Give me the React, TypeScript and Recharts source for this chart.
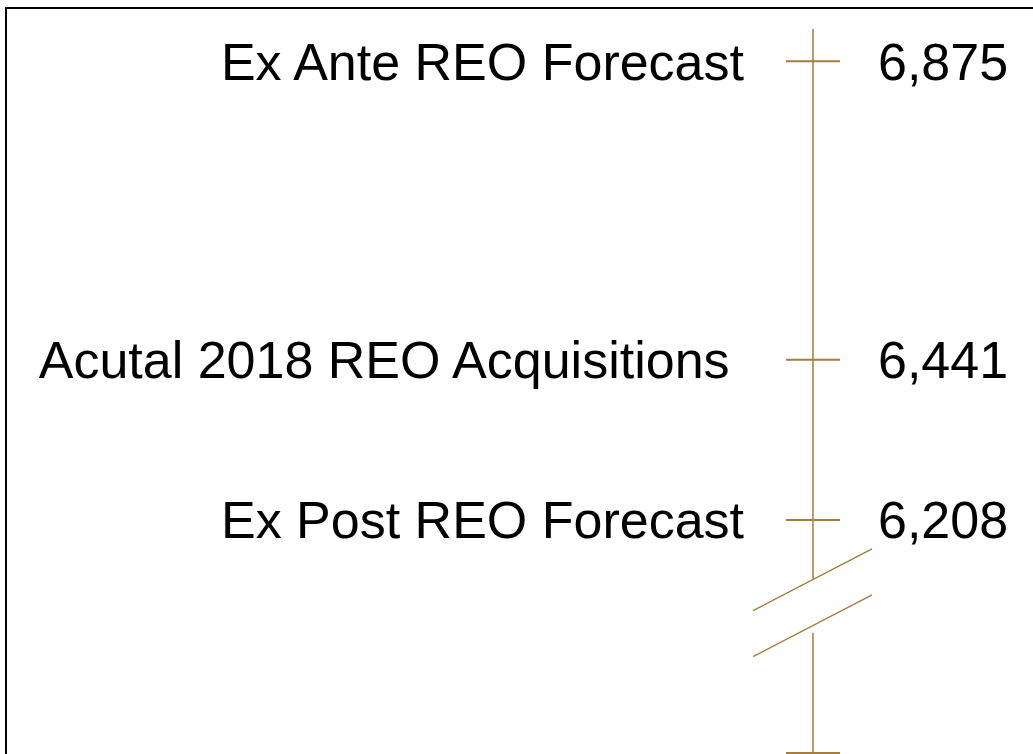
import React from 'react';
import { ScatterChart, Scatter, XAxis, YAxis, ReferenceLine } from 'recharts';

// REO acquisitions: forecasts vs. actual (axis is broken below ~6,050)
const labels = ['Ex Ante REO Forecast', 'Acutal 2018 REO Acquisitions ', 'Ex Post REO Forecast'];
const values = [6875, 6441, 6208];

// visible axis extent and the break in it
const Y_MIN = 5869;
const Y_MAX = 6922;
const BREAK_TOP = 6121; // upper axis segment stops here
const BREAK_LOW = 6054; // second slash crosses the axis here
const BREAK_END = 6044; // lower axis segment resumes here
const BREAK_RISE = 45; // half the vertical rise of each slash, in axis units

const W = 1033;
const H = 754;
const AXIS_X = 813;
const LINE = '#a47d3f';
const FONT = '"Liberation Sans", Arial, Helvetica, sans-serif';
const FONT_SIZE = 52;

const points = values.map((v, i) => ({
  x: AXIS_X,
  y: v,
  label: labels[i],
  text: v.toLocaleString('en-US'),
}));

/** Crossing tick mark with the category on the left and the value on the right. */
function Marker(props: any) {
  const { cx, cy, payload } = props;
  return (
    <g>
      <line x1={cx - 27} x2={cx + 27} y1={cy} y2={cy} stroke={LINE} strokeWidth={2} />
      <text
        x={cx - 69}
        y={cy + 18.5}
        textAnchor="end"
        fontSize={FONT_SIZE}
        fontFamily={FONT}
        fill="#000"
        xmlSpace="preserve"
        style={{ whiteSpace: 'pre' }}
      >
        {payload.label}
      </text>
      <text x={cx + 65} y={cy + 18.5} textAnchor="start" fontSize={FONT_SIZE} fontFamily={FONT} fill="#000">
        {payload.text}
      </text>
    </g>
  );
}

export default function App() {
  return (
    <div style={{ position: 'absolute', left: 0, top: 0, width: W, height: H, overflow: 'hidden', background: '#fff' }}>
      <div
        style={{
          position: 'absolute',
          left: 5,
          top: 7,
          width: W + 20,
          height: H + 20,
          borderLeft: '2px solid #000',
          borderTop: '2px solid #000',
        }}
      />
      <div style={{ position: 'absolute', left: 0, top: 0 }}>
        <ScatterChart width={W} height={H} margin={{ top: 29, right: 0, bottom: 1, left: 0 }}>
          <XAxis type="number" dataKey="x" domain={[0, W]} hide allowDataOverflow />
          <YAxis type="number" dataKey="y" domain={[Y_MIN, Y_MAX]} hide allowDataOverflow />
          {/* axis, split by the break */}
          <ReferenceLine
            segment={[{ x: AXIS_X, y: Y_MAX }, { x: AXIS_X, y: BREAK_TOP }]}
            stroke={LINE}
            strokeWidth={1.5}
          />
          <ReferenceLine
            segment={[{ x: AXIS_X, y: BREAK_END }, { x: AXIS_X, y: Y_MIN }]}
            stroke={LINE}
            strokeWidth={1.5}
          />
          {/* break slashes */}
          <ReferenceLine
            segment={[
              { x: AXIS_X - 60, y: BREAK_TOP - BREAK_RISE },
              { x: AXIS_X + 59, y: BREAK_TOP + BREAK_RISE },
            ]}
            stroke={LINE}
            strokeWidth={1.4}
          />
          <ReferenceLine
            segment={[
              { x: AXIS_X - 60, y: BREAK_LOW - BREAK_RISE },
              { x: AXIS_X + 59, y: BREAK_LOW + BREAK_RISE },
            ]}
            stroke={LINE}
            strokeWidth={1.4}
          />
          {/* base tick */}
          <ReferenceLine
            segment={[{ x: AXIS_X - 27, y: Y_MIN }, { x: AXIS_X + 27, y: Y_MIN }]}
            stroke={LINE}
            strokeWidth={2}
          />
          <Scatter data={points} shape={Marker} isAnimationActive={false} />
        </ScatterChart>
      </div>
    </div>
  );
}
